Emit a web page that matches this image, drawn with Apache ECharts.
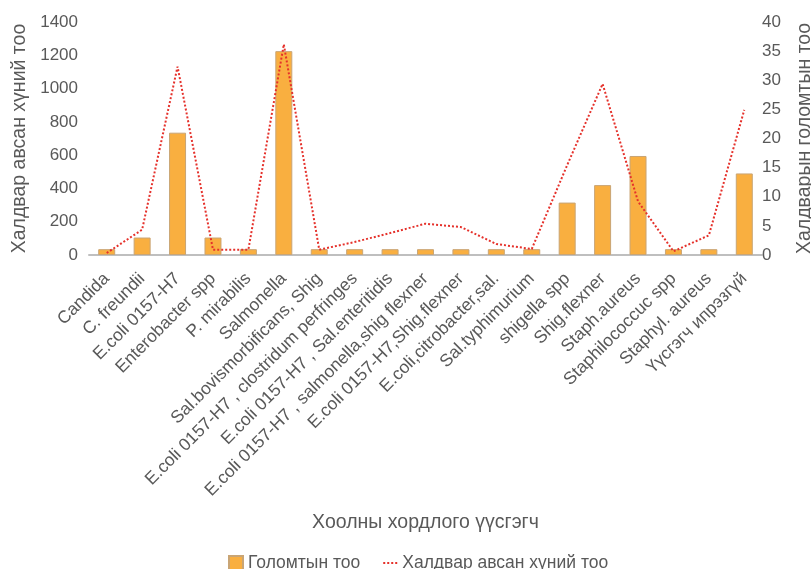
<!DOCTYPE html>
<html>
<head>
<meta charset="utf-8">
<script src="https://cdn.jsdelivr.net/npm/echarts@6/dist/echarts.min.js"></script>
<style>
  html, body { margin: 0; padding: 0; background: #ffffff; }
  #chart { width: 811px; height: 569px; }
</style>
</head>
<body>
<div id="chart"></div>
<script>
// Food poisoning agents
const categories = [
  'Candida',
  'C. freundii',
  'E.coli 0157-H7',
  'Enterobacter spp',
  'P. mirabilis',
  'Salmonella',
  'Sal.bovismorbificans, Shig',
  'E.coli 0157-H7 , clostridum perfringes',
  'E.coli 0157-H7 , Sal.enteritidis',
  'E.coli 0157-H7 , salmonella,shig flexner',
  'E.coli 0157-H7,Shig.flexner',
  'E.coli,citrobacter,sal.',
  'Sal.typhimurium',
  'shigella spp',
  'Shig.flexner',
  'Staph.aureus',
  'Staphilococcuc spp',
  'Staphyl. aureus',
  'Үүсгэгч ипрэзгүй'
];

// Number of outbreaks (right axis)
const outbreaks = [1, 3, 21, 3, 1, 35, 1, 1, 1, 1, 1, 1, 1, 9, 12, 17, 1, 1, 14];

// Number of infected people (left axis)
const infected = [12, 152, 1132, 32, 32, 1266, 32, 78, 132, 188, 168, 66, 36, 540, 1028, 322, 22, 118, 872];

const leftTicks = { min: 0, max: 1400, interval: 200 };
const rightTicks = { min: 0, max: 40, interval: 5 };

const textColor = '#595959';
const fontFamily = 'Liberation Sans, Arial, sans-serif';

const chart = echarts.init(document.getElementById('chart'));
chart.setOption({
  animation: false,
  textStyle: { fontFamily: fontFamily },
  grid: { left: 89, right: 49, top: 22, bottom: 314, outerBoundsMode: 'none', containLabel: false },
  legend: {
    left: 223,
    top: 549,
    itemGap: 22,
    itemWidth: 14,
    itemHeight: 14,
    textStyle: { fontSize: 17.5, color: textColor, fontFamily: fontFamily },
    data: [
      { name: 'Голомтын тоо', icon: 'rect' },
      { name: 'Халдвар авсан хүний тоо', itemStyle: { opacity: 0 } }
    ]
  },
  xAxis: {
    type: 'category',
    data: categories,
    name: 'Хоолны хордлого үүсгэгч',
    nameLocation: 'middle',
    nameGap: 258,
    nameTextStyle: { fontSize: 19.5, color: textColor },
    axisLine: { lineStyle: { color: '#BFBFBF', width: 2 } },
    axisTick: { show: false },
    axisLabel: {
      rotate: 45,
      interval: 0,
      fontSize: 17.5,
      color: textColor,
      margin: 21
    }
  },
  yAxis: [
    {
      type: 'value',
      min: leftTicks.min,
      max: leftTicks.max,
      interval: leftTicks.interval,
      name: 'Халдвар авсан хүний тоо',
      nameLocation: 'middle',
      nameRotate: 90,
      nameGap: 57,
      nameTextStyle: { fontSize: 19.5, color: textColor },
      axisLine: { show: false },
      axisTick: { show: false },
      splitLine: { show: false },
      axisLabel: { fontSize: 17, color: textColor, margin: 11, formatter: v => String(v) }
    },
    {
      type: 'value',
      min: rightTicks.min,
      max: rightTicks.max,
      interval: rightTicks.interval,
      name: 'Халдварын голомтын тоо',
      nameLocation: 'middle',
      nameRotate: 90,
      nameGap: 33,
      nameTextStyle: { fontSize: 19.5, color: textColor },
      axisLine: { show: false },
      axisTick: { show: false },
      splitLine: { show: false },
      axisLabel: { fontSize: 17, color: textColor, margin: 0, formatter: v => String(v) }
    }
  ],
  series: [
    {
      name: 'Голомтын тоо',
      type: 'bar',
      yAxisIndex: 1,
      data: outbreaks,
      barWidth: '48%',
      itemStyle: { color: '#F9AF40', borderColor: '#C9A575', borderWidth: 1 }
    },
    {
      name: 'Халдвар авсан хүний тоо',
      type: 'line',
      yAxisIndex: 0,
      data: infected,
      symbol: 'none',
      lineStyle: { color: '#E5312B', width: 2, type: [2, 2] },
      itemStyle: { color: '#E5312B' }
    }
  ]
});
</script>
</body>
</html>
